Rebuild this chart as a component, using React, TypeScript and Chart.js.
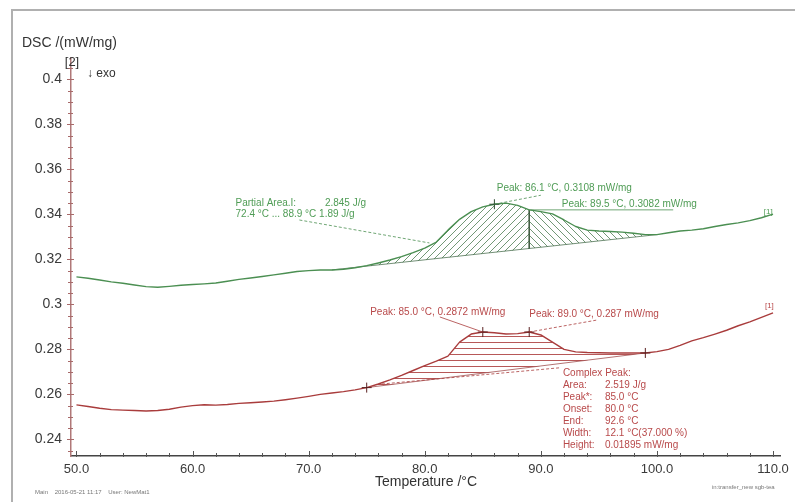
import React, { useEffect, useRef } from 'react';
import { Chart, registerables } from 'chart.js';

Chart.register(...registerables);

// ---------- data ----------
const temperatures = [
  50, 51, 52, 53, 54, 55, 56, 57, 58, 59,
  60, 61, 62, 63, 64, 65, 66, 67, 68, 69,
  70, 71, 72, 73, 74, 75, 76, 77, 78, 79,
  80, 81, 82, 83, 84, 85, 86, 87, 88, 89,
  90, 91, 92, 93, 94, 95, 96, 97, 98, 99,
  100, 101, 102, 103, 104, 105, 106, 107, 108, 109, 110,
];

// curve [2] (green, upper)
const greenValues = [
  0.3122, 0.3116, 0.3108, 0.3100, 0.3094, 0.3086, 0.3079, 0.3076, 0.3080, 0.3085,
  0.3088, 0.3091, 0.3095, 0.3103, 0.3111, 0.3117, 0.3124, 0.3131, 0.3138, 0.3146,
  0.3150, 0.3153, 0.3153, 0.3156, 0.3163, 0.3172, 0.3184, 0.3197, 0.3212, 0.3230,
  0.3250, 0.3277, 0.3330, 0.3378, 0.3412, 0.3433, 0.3445, 0.3450, 0.3440, 0.3420,
  0.3412, 0.3402, 0.3375, 0.3346, 0.3330, 0.3326, 0.3324, 0.3321, 0.3316, 0.3310,
  0.3310, 0.3318, 0.3326, 0.3330, 0.3336, 0.3346, 0.3355, 0.3362, 0.3372, 0.3385, 0.3401,
];

// curve [1] (red, lower)
const redValues = [
  0.2553, 0.2546, 0.2538, 0.2532, 0.2530, 0.2528, 0.2526, 0.2528, 0.2534, 0.2543,
  0.2550, 0.2554, 0.2552, 0.2555, 0.2560, 0.2563, 0.2566, 0.2570, 0.2576, 0.2583,
  0.2591, 0.2600, 0.2606, 0.2612, 0.2620, 0.2630, 0.2646, 0.2664, 0.2684, 0.2706,
  0.2728, 0.2748, 0.2770, 0.2832, 0.2868, 0.2877, 0.2874, 0.2868, 0.2870, 0.2877,
  0.2864, 0.2832, 0.2800, 0.2789, 0.2786, 0.2785, 0.2784, 0.2784, 0.2784, 0.2784,
  0.2790, 0.2800, 0.2818, 0.2838, 0.2852, 0.2868, 0.2885, 0.2905, 0.2922, 0.2942, 0.2962,
];

const greenBaselineTemps = [72, 100];
const greenAreaLeftRange = [72, 89];
const greenAreaRightRange = [89, 100];
const greenSplitTemp = 89;
const redBaselineTemps = [75, 99];
const greenMarkerTemps = [86];
const redMarkerTemps = [75, 85, 89, 99];

const xRange = [49.53, 110.6];
const yRange = [0.2326, 0.4095];

const greenPeak1Text = 'Peak: 86.1 °C, 0.3108 mW/mg';
const greenPeak2Text = 'Peak: 89.5 °C, 0.3082 mW/mg';
const partialAreaLines = ['Partial Area.I:', '2.845 J/g', '72.4 °C ... 88.9 °C 1.89 J/g'];
const redPeak1Text = 'Peak: 85.0 °C, 0.2872 mW/mg';
const redPeak2Text = 'Peak: 89.0 °C, 0.287 mW/mg';
const complexLabels = ['Complex Peak:', 'Area:', 'Peak*:', 'Onset:', 'End:', 'Width:', 'Height:'];
const complexValues = ['', '2.519 J/g', '85.0 °C', '80.0 °C', '92.6 °C', '12.1 °C(37.000 %)', '0.01895 mW/mg'];

// ---------- helpers ----------
const valueAt = (values: number[], t: number) => values[temperatures.indexOf(t)];
const rangePoints = (values: number[], t0: number, t1: number) =>
  temperatures.filter((t) => t >= t0 && t <= t1).map((t) => ({ x: t, y: valueAt(values, t) }));

const GREEN = '#4b8f52';
const GREEN_TEXT = '#4f9c55';
const RED = '#a93c3c';
const RED_TEXT = '#b8494a';
const FONT = '"Liberation Sans", Arial, sans-serif';

// annotation anchors in data coordinates
const leaders = [
  { from: [86.0, 0.3445], to: [90.0, 0.3485], color: GREEN, dash: [3, 2] },
  { from: [89.0, 0.3420], to: [101.4, 0.3420], color: GREEN, dash: [] },
  { from: [69.2, 0.3375], to: [80.4, 0.3273], color: GREEN, dash: [3, 2] },
  { from: [81.3, 0.2944], to: [85.0, 0.2877], color: RED, dash: [] },
  { from: [89.0, 0.2877], to: [94.8, 0.2930], color: RED, dash: [3, 2] },
  { from: [76.3, 0.2646], to: [91.6, 0.2718], color: RED, dash: [3, 2] },
];

const texts = [
  { text: greenPeak1Text, t: 86.2, v: 0.3517, color: GREEN_TEXT, size: 10 },
  { text: greenPeak2Text, t: 91.8, v: 0.3446, color: GREEN_TEXT, size: 10 },
  { text: partialAreaLines[0], t: 63.7, v: 0.3450, color: GREEN_TEXT, size: 10 },
  { text: partialAreaLines[1], t: 71.4, v: 0.3450, color: GREEN_TEXT, size: 10 },
  { text: partialAreaLines[2], t: 63.7, v: 0.3401, color: GREEN_TEXT, size: 10 },
  { text: '[1]', t: 109.2, v: 0.3412, color: GREEN_TEXT, size: 8 },
  { text: redPeak1Text, t: 75.3, v: 0.2966, color: RED_TEXT, size: 10 },
  { text: redPeak2Text, t: 89.0, v: 0.2957, color: RED_TEXT, size: 10 },
  { text: '[1]', t: 109.3, v: 0.2995, color: RED_TEXT, size: 8 },
];
const complexAnchor = { t: 91.9, v: 0.2695 };

function makePattern(target: CanvasRenderingContext2D, kind: string, color: string) {
  const c = document.createElement('canvas');
  if (kind === 'h') {
    c.width = 8;
    c.height = 6;
  } else {
    c.width = 7;
    c.height = 7;
  }
  const g = c.getContext('2d') as CanvasRenderingContext2D;
  g.strokeStyle = color;
  if (kind === 'h') {
    g.lineWidth = 1;
    g.beginPath();
    g.moveTo(0, 0.5);
    g.lineTo(8, 0.5);
    g.stroke();
  } else {
    const s = 7;
    g.lineWidth = 0.9;
    g.beginPath();
    if (kind === '/') {
      g.moveTo(0, s); g.lineTo(s, 0);
      g.moveTo(-1, 1); g.lineTo(1, -1);
      g.moveTo(s - 1, s + 1); g.lineTo(s + 1, s - 1);
    } else {
      g.moveTo(0, 0); g.lineTo(s, s);
      g.moveTo(-1, s - 1); g.lineTo(1, s + 1);
      g.moveTo(s - 1, -1); g.lineTo(s + 1, 1);
    }
    g.stroke();
  }
  return target.createPattern(c, 'repeat') as CanvasPattern;
}

const decorPlugin = {
  id: 'dscDecor',
  beforeDraw(chart: any) {
    const { ctx } = chart;
    ctx.save();
    ctx.fillStyle = '#ffffff';
    ctx.fillRect(0, 0, chart.width, chart.height);
    ctx.strokeStyle = '#b0b0b0';
    ctx.lineWidth = 2;
    ctx.beginPath();
    ctx.moveTo(12, chart.height + 2);
    ctx.lineTo(12, 10);
    ctx.lineTo(chart.width + 2, 10);
    ctx.stroke();
    ctx.restore();
  },
  afterDatasetsDraw(chart: any) {
    const { ctx, scales } = chart;
    const x = scales.x;
    const y = scales.y;
    const px = (t: number) => x.getPixelForValue(t);
    const py = (v: number) => y.getPixelForValue(v);
    ctx.save();
    for (const l of leaders) {
      ctx.strokeStyle = l.color;
      ctx.lineWidth = 0.8;
      ctx.setLineDash(l.dash);
      ctx.beginPath();
      ctx.moveTo(px(l.from[0]), py(l.from[1]));
      ctx.lineTo(px(l.to[0]), py(l.to[1]));
      ctx.stroke();
    }
    ctx.setLineDash([]);
    ctx.textAlign = 'left';
    ctx.textBaseline = 'middle';
    for (const tx of texts) {
      ctx.fillStyle = tx.color;
      ctx.font = `${tx.size}px ${FONT}`;
      ctx.fillText(tx.text, px(tx.t), py(tx.v));
    }
    ctx.font = `10px ${FONT}`;
    ctx.fillStyle = RED_TEXT;
    const cx = px(complexAnchor.t);
    const cy = py(complexAnchor.v);
    complexLabels.forEach((lab, i) => {
      ctx.fillText(lab, cx, cy + i * 12);
      if (complexValues[i]) ctx.fillText(complexValues[i], cx + 42, cy + i * 12);
    });
    ctx.restore();
  },
  afterDraw(chart: any) {
    const { ctx, chartArea, scales } = chart;
    const x = scales.x;
    const y = scales.y;
    ctx.save();
    // x ticks (pointing inward)
    ctx.strokeStyle = '#555555';
    ctx.lineWidth = 1;
    for (const tk of x.ticks) {
      const p = Math.round(x.getPixelForValue(tk.value)) + 0.5;
      const major = tk.label !== '';
      ctx.beginPath();
      ctx.moveTo(p, chartArea.bottom + 1);
      ctx.lineTo(p, chartArea.bottom - (major ? 5 : 3));
      ctx.stroke();
    }
    // y ticks (crossing)
    ctx.strokeStyle = '#a86a6a';
    for (const tk of y.ticks) {
      const p = Math.round(y.getPixelForValue(tk.value)) + 0.5;
      const major = tk.label !== '';
      ctx.beginPath();
      ctx.moveTo(chartArea.left - (major ? 4 : 3), p);
      ctx.lineTo(chartArea.left + (major ? 3 : 2), p);
      ctx.stroke();
    }
    // titles
    ctx.fillStyle = '#333333';
    ctx.textBaseline = 'middle';
    ctx.textAlign = 'left';
    ctx.font = `14px ${FONT}`;
    ctx.fillText('DSC /(mW/mg)', 22, 43);
    ctx.textAlign = 'center';
    ctx.font = `13px ${FONT}`;
    ctx.fillText('[2]', chartArea.left + 1, 62);
    ctx.textAlign = 'left';
    ctx.font = `12px ${FONT}`;
    ctx.fillText('↓ exo', 87, 74);
    ctx.textAlign = 'center';
    ctx.font = `14px ${FONT}`;
    ctx.fillText('Temperature /°C', 426, 482);
    ctx.fillStyle = '#777777';
    ctx.textAlign = 'left';
    ctx.font = `6px ${FONT}`;
    ctx.fillText('Main    2016-05-21 11:17    User: NewMat1', 35, 492);
    ctx.fillText('in:transfer_new sgb-tea', 712, 487);
    ctx.restore();
  },
};

export default function App() {
  const canvasRef = useRef<HTMLCanvasElement | null>(null);

  useEffect(() => {
    const canvas = canvasRef.current;
    if (!canvas) return;
    const ctx2d = canvas.getContext('2d') as CanvasRenderingContext2D;

    const greenCurve = temperatures.map((t, i) => ({ x: t, y: greenValues[i] }));
    const redCurve = temperatures.map((t, i) => ({ x: t, y: redValues[i] }));
    const gb = greenBaselineTemps.map((t) => ({ x: t, y: valueAt(greenValues, t) }));
    const rb = redBaselineTemps.map((t) => ({ x: t, y: valueAt(redValues, t) }));
    const gbAt = (t: number) => gb[0].y + ((t - gb[0].x) / (gb[1].x - gb[0].x)) * (gb[1].y - gb[0].y);

    const hatchSlash = makePattern(ctx2d, '/', 'rgba(70,120,75,0.85)');
    const hatchBack = makePattern(ctx2d, '\\', 'rgba(70,120,75,0.85)');
    const hatchH = makePattern(ctx2d, 'h', 'rgba(175,70,70,0.9)');

    const lineBase = { pointRadius: 0, tension: 0, borderJoinStyle: 'round' as const };

    const chart = new Chart(canvas, {
      type: 'line',
      data: {
        datasets: [
          { ...lineBase, data: greenCurve, borderColor: GREEN, borderWidth: 1.4, fill: false, order: 0 },
          { ...lineBase, data: redCurve, borderColor: RED, borderWidth: 1.4, fill: false, order: 0 },
          { ...lineBase, data: gb, borderColor: 'rgba(60,100,65,0.9)', borderWidth: 0.8, fill: false, order: 1 },
          {
            ...lineBase,
            data: rangePoints(greenValues, greenAreaLeftRange[0], greenAreaLeftRange[1]),
            borderColor: 'rgba(0,0,0,0)', borderWidth: 0, backgroundColor: hatchSlash, fill: 2, order: 2,
          },
          {
            ...lineBase,
            data: rangePoints(greenValues, greenAreaRightRange[0], greenAreaRightRange[1]),
            borderColor: 'rgba(0,0,0,0)', borderWidth: 0, backgroundColor: hatchBack, fill: 2, order: 2,
          },
          {
            ...lineBase,
            data: [
              { x: greenSplitTemp, y: valueAt(greenValues, greenSplitTemp) },
              { x: greenSplitTemp, y: gbAt(greenSplitTemp) },
            ],
            borderColor: 'rgba(60,90,60,0.9)', borderWidth: 1, fill: false, order: 1,
          },
          { ...lineBase, data: rb, borderColor: 'rgba(150,60,60,0.9)', borderWidth: 0.8, fill: false, order: 1 },
          {
            ...lineBase,
            data: rangePoints(redValues, redBaselineTemps[0], redBaselineTemps[1]),
            borderColor: 'rgba(0,0,0,0)', borderWidth: 0, backgroundColor: hatchH, fill: 6, order: 2,
          },
          {
            type: 'scatter' as any,
            data: greenMarkerTemps.map((t) => ({ x: t, y: valueAt(greenValues, t) })),
            pointStyle: 'cross', pointRadius: 5, borderColor: '#2f4f33', borderWidth: 1, showLine: false, order: -1,
          } as any,
          {
            type: 'scatter' as any,
            data: redMarkerTemps.map((t) => ({ x: t, y: valueAt(redValues, t) })),
            pointStyle: 'cross', pointRadius: 5, borderColor: '#5a2020', borderWidth: 1, showLine: false, order: -1,
          } as any,
        ],
      },
      options: {
        animation: false,
        responsive: false,
        devicePixelRatio: 1,
        layout: { padding: { top: 58, right: 15, bottom: 0, left: 0 } },
        plugins: { legend: { display: false }, tooltip: { enabled: false } },
        scales: {
          x: {
            type: 'linear',
            min: xRange[0],
            max: xRange[1],
            afterFit: (s: any) => { s.height = 46; },
            grid: { display: false, drawTicks: false },
            border: { display: true, color: '#444444', width: 1.5 },
            ticks: {
              stepSize: 2,
              includeBounds: false,
              autoSkip: false,
              maxRotation: 0,
              padding: 6,
              color: '#3a3a3a',
              font: { family: FONT, size: 13 },
              callback: (v: any) => {
                const n = Number(v);
                return Math.abs(n / 10 - Math.round(n / 10)) < 1e-6 ? n.toFixed(1) : '';
              },
            },
          },
          y: {
            type: 'linear',
            min: yRange[0],
            max: yRange[1],
            afterFit: (s: any) => { s.width = 71; },
            grid: { display: false, drawTicks: false },
            border: { display: true, color: '#b07878', width: 1.5 },
            ticks: {
              stepSize: 0.005,
              includeBounds: false,
              autoSkip: false,
              padding: 9,
              color: '#3a3a3a',
              font: { family: FONT, size: 14 },
              callback: (v: any) => {
                const n = Number(v);
                return Math.abs(n / 0.02 - Math.round(n / 0.02)) < 1e-6 ? String(Math.round(n * 100) / 100) : '';
              },
            },
          },
        },
      },
      plugins: [decorPlugin],
    });

    return () => chart.destroy();
  }, []);

  return (
    <div style={{ position: 'absolute', left: 0, top: 0, width: 795, height: 502 }}>
      <canvas ref={canvasRef} width={795} height={502} style={{ display: 'block', width: 795, height: 502 }} />
    </div>
  );
}
